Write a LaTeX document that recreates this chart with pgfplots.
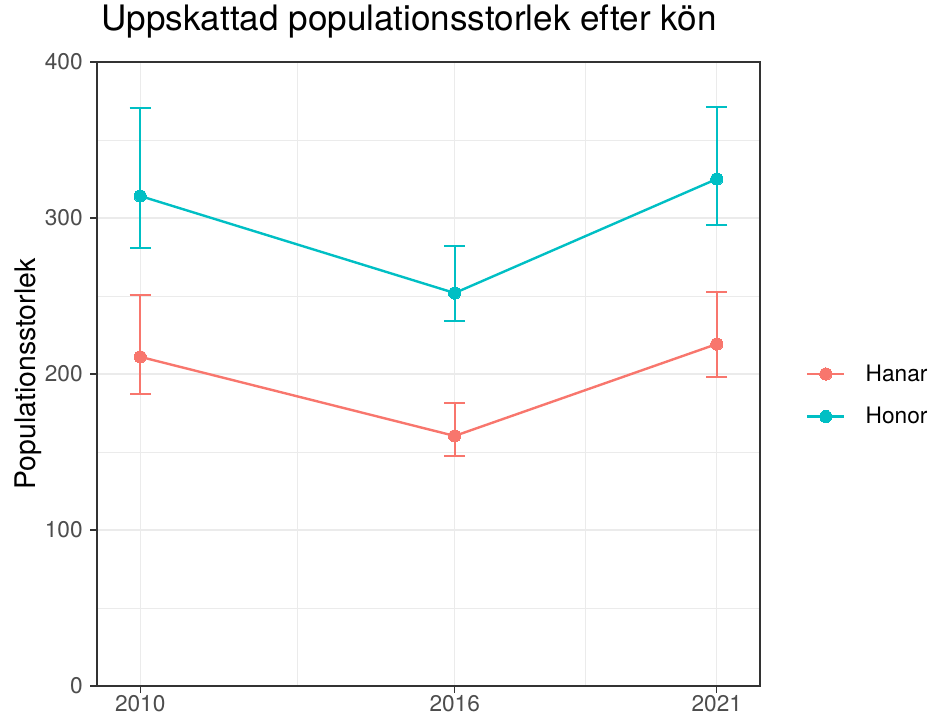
\documentclass[border=0pt]{standalone}
\usepackage{fontspec}
\setmainfont{TeX Gyre Heros}
\usepackage{pgfplots}
\pgfplotsset{compat=1.18}
\definecolor{hanar}{HTML}{F8766D}
\definecolor{honor}{HTML}{00BFC4}
\definecolor{gridc}{HTML}{EBEBEB}
\definecolor{framec}{HTML}{333333}
\definecolor{ticklab}{HTML}{4D4D4D}
\begin{document}
\begin{tikzpicture}
\path[use as bounding box] (-72.75pt,-24pt) rectangle (625.5pt,514.5pt);
\begin{axis}[
  at={(0,0)}, anchor=south west,
  scale only axis, width=497.25pt, height=468pt,
  xmin=2009.175, xmax=2021.825, ymin=0, ymax=400,
  xtick={2010,2016,2021}, minor xtick={2013,2018.5},
  ytick={0,100,200,300,400}, minor ytick={50,150,250,350},
  grid=both,
  major grid style={gridc, line width=0.8pt},
  minor grid style={gridc, line width=0.4pt},
  axis line style={framec, line width=0.8pt},
  tick style={framec, line width=0.8pt},
  major tick length=5.25pt, minor tick length=0pt,
  tick align=outside, tick pos=left,
  /pgf/number format/assume math mode=true,
  /pgf/number format/1000 sep={},
  ticklabel style={font=\fontsize{17}{20}\selectfont, text=ticklab},
  xticklabel style={yshift=1.5pt},
  yticklabel style={xshift=-2pt},
  title={Uppskattad populationsstorlek efter kön},
  title style={font=\fontsize{26.3}{30}\selectfont, anchor=base west, at={(axis description cs:0,1)}, yshift=17.5pt, inner sep=0pt, xshift=3pt},
  ylabel={Populationsstorlek},
  ylabel style={font=\fontsize{21.3}{25}\selectfont, at={(axis description cs:-0.104,0.5)}, anchor=center, rotate=0},
  legend style={at={(axis description cs:1.063,0.466)}, anchor=west, draw=none, fill=none,
    font=\fontsize{17}{20}\selectfont, row sep=14pt},
  legend cell align=left,
  legend image code/.code={
    \draw[#1, mark repeat=2, mark phase=2] plot coordinates {(0cm,0cm) (0.49cm,0cm) (0.98cm,0cm)};
    \path[draw=none] (0cm,0cm) -- (1.47cm,0cm);
  },
]
\addplot[hanar, line width=1.8pt, mark=*, mark size=4.6pt, mark options={fill=hanar, draw=hanar, line width=0pt},
  error bars/.cd, y dir=both, y explicit,
  error bar style={line width=1.8pt, hanar},
  error mark options={rotate=90, mark size=7.875pt, line width=1.8pt, hanar}]
  coordinates {
    (2010,211) +=(0,39.6) -=(0,23.8)
    (2016,160.3) +=(0,21.1) -=(0,12.9)
    (2021,219.2) +=(0,33.4) -=(0,21.2)
  };
\addlegendentry{Hanar}
\addplot[honor, line width=1.8pt, mark=*, mark size=4.6pt, mark options={fill=honor, draw=honor, line width=0pt},
  error bars/.cd, y dir=both, y explicit,
  error bar style={line width=1.8pt, honor},
  error mark options={rotate=90, mark size=7.875pt, line width=1.8pt, honor}]
  coordinates {
    (2010,314.1) +=(0,56.4) -=(0,33.3)
    (2016,251.9) +=(0,30.1) -=(0,17.9)
    (2021,325) +=(0,46.2) -=(0,29.5)
  };
\addlegendentry{Honor}
\end{axis}
\end{tikzpicture}
\end{document}
